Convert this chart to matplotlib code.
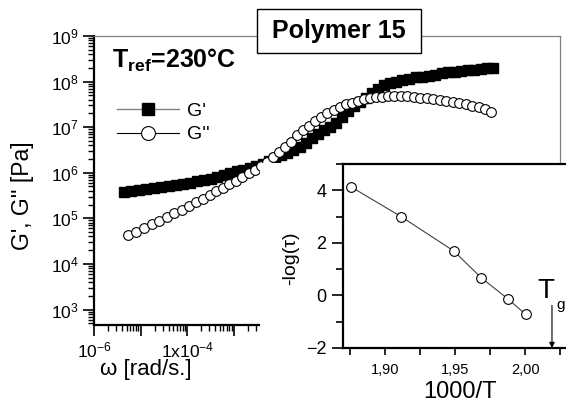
import numpy as np
import matplotlib
matplotlib.use('Agg')
import matplotlib.pyplot as plt
from matplotlib.patches import Rectangle
from matplotlib.lines import Line2D
from matplotlib.ticker import LogLocator, FuncFormatter, NullFormatter, FixedLocator, MultipleLocator

plt.rcParams['font.family'] = ['Liberation Sans', 'DejaVu Sans']
plt.rcParams['mathtext.fontset'] = 'custom'
plt.rcParams['mathtext.rm'] = 'Liberation Sans'
plt.rcParams['mathtext.bf'] = 'Liberation Sans:bold'
plt.rcParams['mathtext.it'] = 'Liberation Sans:italic'

# master curve as log10 values
log_w_g1 = [-5.36, -5.20, -5.04, -4.88, -4.72, -4.56, -4.40, -4.25, -4.10, -3.95,
            -3.80, -3.65, -3.50, -3.36, -3.22, -3.08, -2.94, -2.80, -2.66, -2.52,
            -2.38, -2.24, -2.11, -1.98, -1.85, -1.72, -1.59, -1.46, -1.33, -1.20,
            -1.07, -0.94, -0.81, -0.68, -0.55, -0.42, -0.29, -0.16, -0.03, 0.10,
            0.23, 0.36, 0.49, 0.62, 0.76, 0.90, 1.04, 1.18, 1.32, 1.46,
            1.60, 1.74, 1.88, 2.02, 2.16, 2.30, 2.44, 2.56]
log_g1 = [5.57, 5.59, 5.62, 5.64, 5.66, 5.68, 5.70, 5.73, 5.75, 5.78,
          5.81, 5.84, 5.87, 5.91, 5.95, 5.99, 6.03, 6.07, 6.11, 6.15,
          6.20, 6.26, 6.32, 6.39, 6.44, 6.50, 6.57, 6.66, 6.76, 6.85,
          6.93, 7.00, 7.10, 7.23, 7.36, 7.46, 7.55, 7.64, 7.74, 7.84,
          7.92, 7.97, 8.00, 8.03, 8.06, 8.09, 8.11, 8.13, 8.15, 8.18,
          8.20, 8.22, 8.23, 8.25, 8.26, 8.28, 8.29, 8.30]

log_w_g2 = [-5.27, -5.10, -4.93, -4.76, -4.60, -4.44, -4.28, -4.12, -3.97, -3.82,
            -3.67, -3.52, -3.38, -3.24, -3.10, -2.96, -2.82, -2.68, -2.55, -2.42,
            -2.29, -2.16, -2.03, -1.90, -1.77, -1.64, -1.51, -1.38, -1.25, -1.12,
            -0.99, -0.86, -0.73, -0.60, -0.47, -0.34, -0.21, -0.08, 0.05, 0.18,
            0.31, 0.44, 0.58, 0.72, 0.86, 1.00, 1.14, 1.28, 1.42, 1.56,
            1.70, 1.84, 1.98, 2.12, 2.26, 2.40, 2.52]
log_g2 = [4.64, 4.71, 4.79, 4.87, 4.95, 5.03, 5.11, 5.19, 5.27, 5.35,
          5.43, 5.51, 5.59, 5.67, 5.75, 5.83, 5.91, 5.99, 6.07, 6.15,
          6.24, 6.34, 6.45, 6.56, 6.68, 6.83, 6.93, 7.03, 7.13, 7.22,
          7.31, 7.38, 7.44, 7.50, 7.54, 7.58, 7.61, 7.64, 7.66, 7.67,
          7.68, 7.69, 7.69, 7.68, 7.67, 7.65, 7.63, 7.61, 7.60, 7.58,
          7.56, 7.53, 7.50, 7.47, 7.44, 7.39, 7.33]

# inset: relaxation time vs 1000/T
inv_T = [1.8757, 1.9114, 1.949, 1.9686, 1.988, 2.0002]
neg_log_tau = [4.13, 3.0, 1.69, 0.67, -0.15, -0.72]
TG = 2.019

W, H = 566, 398
fig = plt.figure(figsize=(W / 100, H / 100), dpi=100)

# main plot
ax = fig.add_axes([94 / W, 1 - 325 / H, 466 / W, 289 / H])
ax.plot(10 ** np.array(log_w_g1), 10 ** np.array(log_g1), 's', color='black', ms=7, ls='none')
ax.plot(10 ** np.array(log_w_g2), 10 ** np.array(log_g2), 'o', mfc='white', mec='black',
        mew=0.8, ms=7, ls='none')
ax.set_xscale('log')
ax.set_yscale('log')
ax.set_xlim(1e-6, 1e4)
ax.set_ylim(10 ** 2.66, 1e9)

ax.xaxis.set_major_locator(LogLocator(base=10, numticks=30))
ax.xaxis.set_minor_locator(LogLocator(base=10, subs=np.arange(2, 10), numticks=30))
ax.yaxis.set_major_locator(LogLocator(base=10, numticks=30))
ax.yaxis.set_minor_locator(LogLocator(base=10, subs=np.arange(2, 10), numticks=30))


def xfmt(v, pos):
    e = int(round(np.log10(v)))
    if e == -6:
        return '$10^{-6}$'
    if e == -4:
        return '1x$10^{-4}$'
    return ''


ax.xaxis.set_major_formatter(FuncFormatter(xfmt))
ax.xaxis.set_minor_formatter(NullFormatter())
ax.yaxis.set_major_formatter(FuncFormatter(lambda v, p: '$10^{%d}$' % int(round(np.log10(v)))))
ax.yaxis.set_minor_formatter(NullFormatter())
ax.tick_params(which='major', direction='out', length=8, width=1.2, labelsize=12.5, pad=3)
ax.tick_params(which='minor', direction='out', length=4, width=1)
ax.tick_params(top=False, right=False)
for s in ['left', 'bottom']:
    ax.spines[s].set_linewidth(1.6)
for s in ['top', 'right']:
    ax.spines[s].set_linewidth(0.9)
    ax.spines[s].set_color('#808080')

# legend with line + symbol like Origin
handles = [Line2D([], [], color='#808080', lw=1, marker='s', ms=9, mfc='black', mec='black'),
           Line2D([], [], color='black', lw=0.8, marker='o', ms=10, mfc='white', mec='black', mew=0.8)]
ax.legend(handles, ["G'", "G''"], loc='upper left', bbox_to_anchor=(117 / W, 1 - 102 / H),
          bbox_transform=fig.transFigure, frameon=False, fontsize=14, handlelength=3.2,
          handletextpad=0.4, labelspacing=0.32, borderpad=0, borderaxespad=0)

fig.text(112 / W, 1 - 68 / H, r'T$_{\mathbf{ref}}$=230°C', fontweight='bold', fontsize=18,
         va='baseline')
fig.text(22 / W, 1 - 196 / H, "G', G'' [Pa]", rotation=90, ha='center', va='center', fontsize=16.5)
fig.text(146 / W, 1 - 370 / H, 'ω [rad/s.]', ha='center', va='center', fontsize=16)

# white area behind the inset, and the title box
fig.add_artist(Rectangle((260 / W, 0), 306 / W, (H - 163) / H, transform=fig.transFigure,
                         facecolor='white', edgecolor='none', zorder=5))
fig.add_artist(Rectangle((257 / W, 1 - 53 / H), 164 / W, 44 / H, transform=fig.transFigure,
                         facecolor='white', edgecolor='black', lw=1, zorder=6))
fig.text(339 / W, 1 - 31 / H, 'Polymer 15', fontweight='bold', fontsize=18,
         ha='center', va='center', zorder=7)

# inset
axi = fig.add_axes([343 / W, 1 - 348 / H, 223 / W, 184 / H])
axi.set_zorder(10)
axi.plot(inv_T, neg_log_tau, 'o-', color='#404040', lw=0.8, mfc='white', mec='black',
         mew=0.8, ms=7)
axi.set_xlim(1.87, 2.029)
axi.set_ylim(-2, 5.0)
axi.xaxis.set_major_locator(FixedLocator([1.90, 1.95, 2.00]))
axi.xaxis.set_minor_locator(FixedLocator([1.875, 1.925, 1.975, 2.025]))
axi.xaxis.set_major_formatter(FuncFormatter(lambda v, p: f'{v:.2f}'.replace('.', ',')))
axi.yaxis.set_major_locator(MultipleLocator(2))
axi.yaxis.set_minor_locator(MultipleLocator(1))
axi.tick_params(axis='x', which='both', direction='out', length=5, width=1.2, labelsize=10.5, pad=6)
axi.tick_params(axis='y', which='major', direction='out', length=8, width=1.2, labelsize=13, pad=4)
axi.tick_params(axis='y', which='minor', direction='out', length=5, width=1.2)
axi.spines['right'].set_visible(False)
for s in ['left', 'bottom', 'top']:
    axi.spines[s].set_linewidth(1.6)

axi.annotate('', xy=(TG, -2), xytext=(TG, -0.38),
             arrowprops=dict(arrowstyle='-|>', color='black', lw=0.8, mutation_scale=8,
                             shrinkA=0, shrinkB=0))

fig.text(546 / W, 1 - 298 / H, 'T', fontsize=20, ha='center', va='baseline', zorder=20)
fig.text(561 / W, 1 - 309 / H, 'g', fontsize=11, ha='center', va='baseline', zorder=20)
fig.text(460 / W, 1 - 381 / H, '1000/T', fontsize=17, ha='center', va='top', zorder=20)
fig.text(291 / W, 1 - 258 / H, '-log(τ)', rotation=90, ha='center', va='center',
         fontsize=14, zorder=20)

fig.savefig('out.png', dpi=100)
